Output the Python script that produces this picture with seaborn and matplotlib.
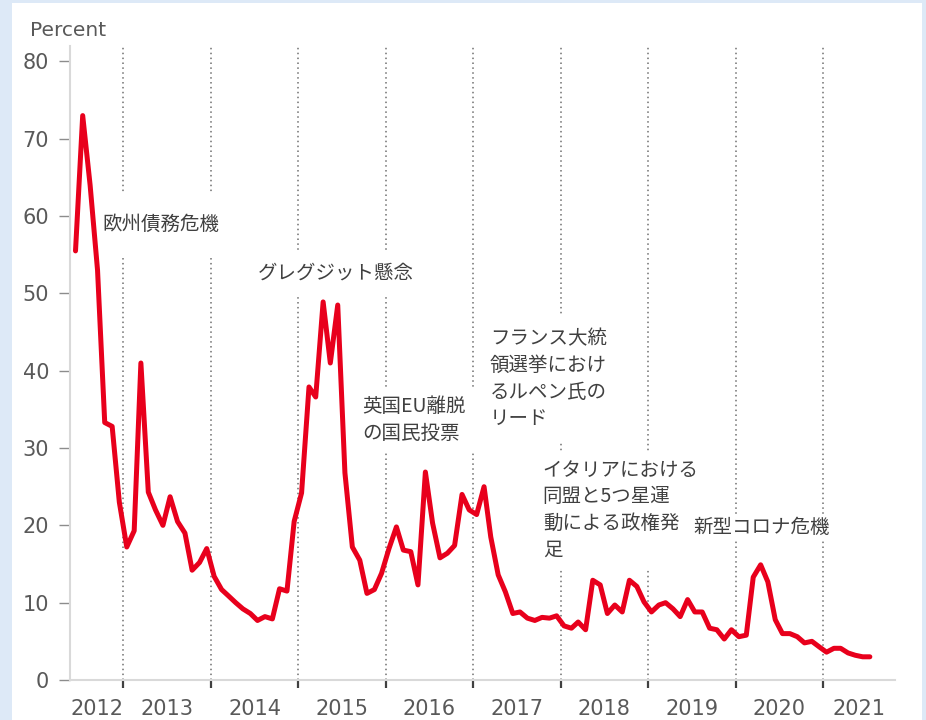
import matplotlib
matplotlib.use("Agg")
import matplotlib.pyplot as plt
import matplotlib.dates as mdates
from matplotlib.patches import Rectangle
import seaborn as sns
import pandas as pd

# monthly values, Jun 2012 - Jul 2021 (percent)
values = [
    55.5, 73.0, 64.0, 53.0, 33.3, 32.8, 23.0, 17.2, 19.3, 41.0,
    24.3, 22.0, 20.0, 23.7, 20.5, 19.0, 14.2, 15.2, 17.0, 13.4,
    11.7, 10.9, 10.0, 9.2, 8.6, 7.7, 8.2, 7.9, 11.8, 11.5,
    20.5, 24.2, 37.9, 36.6, 48.9, 41.0, 48.5, 26.8, 17.2, 15.5,
    11.2, 11.7, 13.8, 17.0, 19.8, 16.8, 16.6, 12.3, 26.9, 20.3,
    15.8, 16.4, 17.4, 24.0, 22.0, 21.4, 25.0, 18.5, 13.6, 11.4,
    8.6, 8.8, 8.0, 7.7, 8.1, 8.0, 8.3, 7.0, 6.7, 7.5,
    6.5, 12.9, 12.3, 8.6, 9.7, 8.8, 12.9, 12.1, 10.1, 8.8,
    9.7, 10.0, 9.2, 8.2, 10.4, 8.8, 8.8, 6.7, 6.5, 5.3,
    6.5, 5.6, 5.8, 13.3, 14.9, 12.7, 7.8, 6.0, 6.0, 5.6,
    4.8, 5.0, 4.3, 3.6, 4.1, 4.1, 3.5, 3.2, 3.0, 3.0,
]
start_month = "2012-06-01"
years = list(range(2012, 2022))
year_labels = [str(y) for y in years]
y_ticks = list(range(0, 81, 10))

notes = [
    "欧州債務危機",
    "グレグジット懸念",
    "英国EU離脱\nの国民投票",
    "フランス大統\n領選挙におけ\nるルペン氏の\nリード",
    "イタリアにおける\n同盟と5つ星運\n動による政権発\n足",
    "新型コロナ危機",
]
# position (axes fraction, left / vertical centre) and white box padding
note_pos = [(0.039, 0.718), (0.228, 0.642), (0.354, 0.410),
            (0.509, 0.475), (0.573, 0.268), (0.756, 0.240)]
note_pad = [1.07, 0.6, 0.43, 0.7, 0.48, 0.08]

df = pd.DataFrame({
    "date": pd.date_range(start_month, periods=len(values), freq="MS") + pd.Timedelta(days=14),
    "value": values,
})

sns.set_style("white")
plt.rcParams["font.family"] = ["DejaVu Sans", "Noto Sans CJK JP"]

grey = "#595959"
fig = plt.figure(figsize=(9.26, 7.2), dpi=100, facecolor="#DDE9F7")
fig.patches.append(Rectangle((12 / 926, 0), 910 / 926, 717 / 720,
                             transform=fig.transFigure, facecolor="white",
                             edgecolor="none", zorder=-10))
ax = fig.add_axes([70 / 926, 40 / 720, 825 / 926, 634 / 720])
ax.set_facecolor("none")

x_left = pd.Timestamp("2012-05-23")
x_right = pd.Timestamp("2021-10-28")

for y in years[1:]:
    ax.axvline(pd.Timestamp(f"{y}-01-01"), color="#6f6f6f", lw=1.1,
               ls=(0, (1, 2.2)), zorder=1)

sns.lineplot(data=df, x="date", y="value", color="#E8001C", linewidth=3.6,
             ax=ax, zorder=4)

for txt, (px, py), pad in zip(notes, note_pos, note_pad):
    ax.text(px, py, txt, transform=ax.transAxes, ha="left", va="center",
            fontsize=14, color="#404040", linespacing=1.34,
            family=["Noto Sans CJK JP", "DejaVu Sans"], zorder=2,
            bbox=dict(boxstyle=f"square,pad={pad}", facecolor="white",
                      edgecolor="none"))

ax.set_xlim(x_left, x_right)
ax.set_ylim(0, 82)
ax.set_yticks(y_ticks)

bounds = [pd.Timestamp(f"{y}-01-01") for y in years[1:]]
ax.set_xticks(bounds)
ax.set_xticklabels([])
edges = [mdates.date2num(x_left)] + [mdates.date2num(b) for b in bounds] + [mdates.date2num(x_right)]
mids = [(a + b) / 2 for a, b in zip(edges[:-1], edges[1:])]
ax.set_xticks(mids, minor=True)
ax.set_xticklabels(year_labels, minor=True)

ax.tick_params(axis="x", which="major", length=6, width=1.6, color="#404040",
               direction="out", bottom=True)
ax.tick_params(axis="x", which="minor", length=0, pad=14, labelsize=15,
               labelcolor=grey)
ax.tick_params(axis="y", length=8, width=1, color="#8c8c8c", pad=7,
               labelsize=15, labelcolor=grey, left=True)

ax.set_xlabel("")
ax.set_ylabel("")
for s in ["top", "right"]:
    ax.spines[s].set_visible(False)
for s in ["left", "bottom"]:
    ax.spines[s].set_color("#d9d9d9")
    ax.spines[s].set_linewidth(1.5)

fig.text(30 / 926, 1 - 30 / 720, "Percent", ha="left", va="center",
         fontsize=14.5, color=grey)

fig.savefig("out.png", dpi=100, facecolor=fig.get_facecolor())
